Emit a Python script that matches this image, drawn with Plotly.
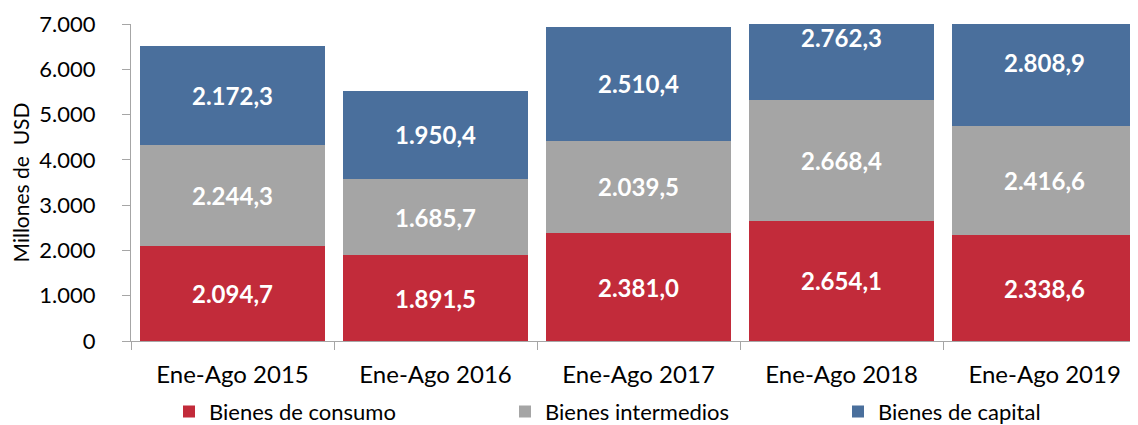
import plotly.graph_objects as go

categories = ["Ene-Ago 2015", "Ene-Ago 2016", "Ene-Ago 2017", "Ene-Ago 2018", "Ene-Ago 2019"]
consumo = [2094.7, 1891.5, 2381.0, 2654.1, 2338.6]
intermedios = [2244.3, 1685.7, 2039.5, 2668.4, 2416.6]
capital = [2172.3, 1950.4, 2510.4, 2762.3, 2808.9]
series = [("Bienes de consumo", consumo, "#C22B3A", "legend"),
          ("Bienes intermedios", intermedios, "#A5A5A5", "legend2"),
          ("Bienes de capital", capital, "#4A6F9C", "legend3")]
y_ticks = [0, 1000, 2000, 3000, 4000, 5000, 6000, 7000]
y_tick_labels = ["0", "1.000", "2.000", "3.000", "4.000", "5.000", "6.000", "7.000"]

FONT = "Lato"
W, H = 1130, 417

def fmt(v):
    s = f"{v:,.1f}"
    return s.replace(",", "X").replace(".", ",").replace("X", ".")

fig = go.Figure()
annotations = []
base = [0.0] * len(categories)
for name, vals, col, leg in series:
    fig.add_trace(go.Bar(name=name, x=categories, y=vals, marker=dict(color=col, line=dict(width=0)),
                         hoverinfo="skip", legend=leg))
    for i, v in enumerate(vals):
        annotations.append(dict(x=categories[i], y=base[i] + v / 2, text=f"<b>{fmt(v)}</b>",
                                showarrow=False, font=dict(family=FONT, size=24, color="white"),
                                xref="x", yref="y"))
        base[i] += v

leg_common = dict(orientation="h", xref="container", yref="container", xanchor="left",
                  yanchor="middle", y=0.032, font=dict(size=22), itemwidth=30,
                  bgcolor="rgba(0,0,0,0)")
fig.update_layout(
    barmode="stack",
    bargap=0.09,
    width=W, height=H,
    margin=dict(l=123, r=0, t=16, b=84, autoexpand=False),
    paper_bgcolor="white", plot_bgcolor="white",
    font=dict(family=FONT, size=20, color="black"),
    annotations=annotations,
    showlegend=True,
    legend=dict(x=161 / W, **leg_common),
    legend2=dict(x=497 / W, **leg_common),
    legend3=dict(x=830 / W, **leg_common),
)
fig.update_xaxes(range=[-0.5, 4.46], showline=True, linecolor="#A6A6A6", linewidth=1,
                 ticks="outside", tickson="boundaries", ticklen=8, tickcolor="#A6A6A6",
                 showgrid=False, tickfont=dict(size=24), automargin=False,
                 ticklabelstandoff=12)
fig.update_yaxes(range=[0, 7000], tickvals=y_ticks, ticktext=y_tick_labels,
                 showline=True, linecolor="#A6A6A6", linewidth=1, ticks="outside",
                 ticklen=8, tickcolor="#A6A6A6", showgrid=False, zeroline=False,
                 ticklabelstandoff=22, automargin=False,
                 tickfont=dict(size=22), title=dict(text="Millones de  USD", font=dict(size=21), standoff=12))

fig.write_html("out.html")
